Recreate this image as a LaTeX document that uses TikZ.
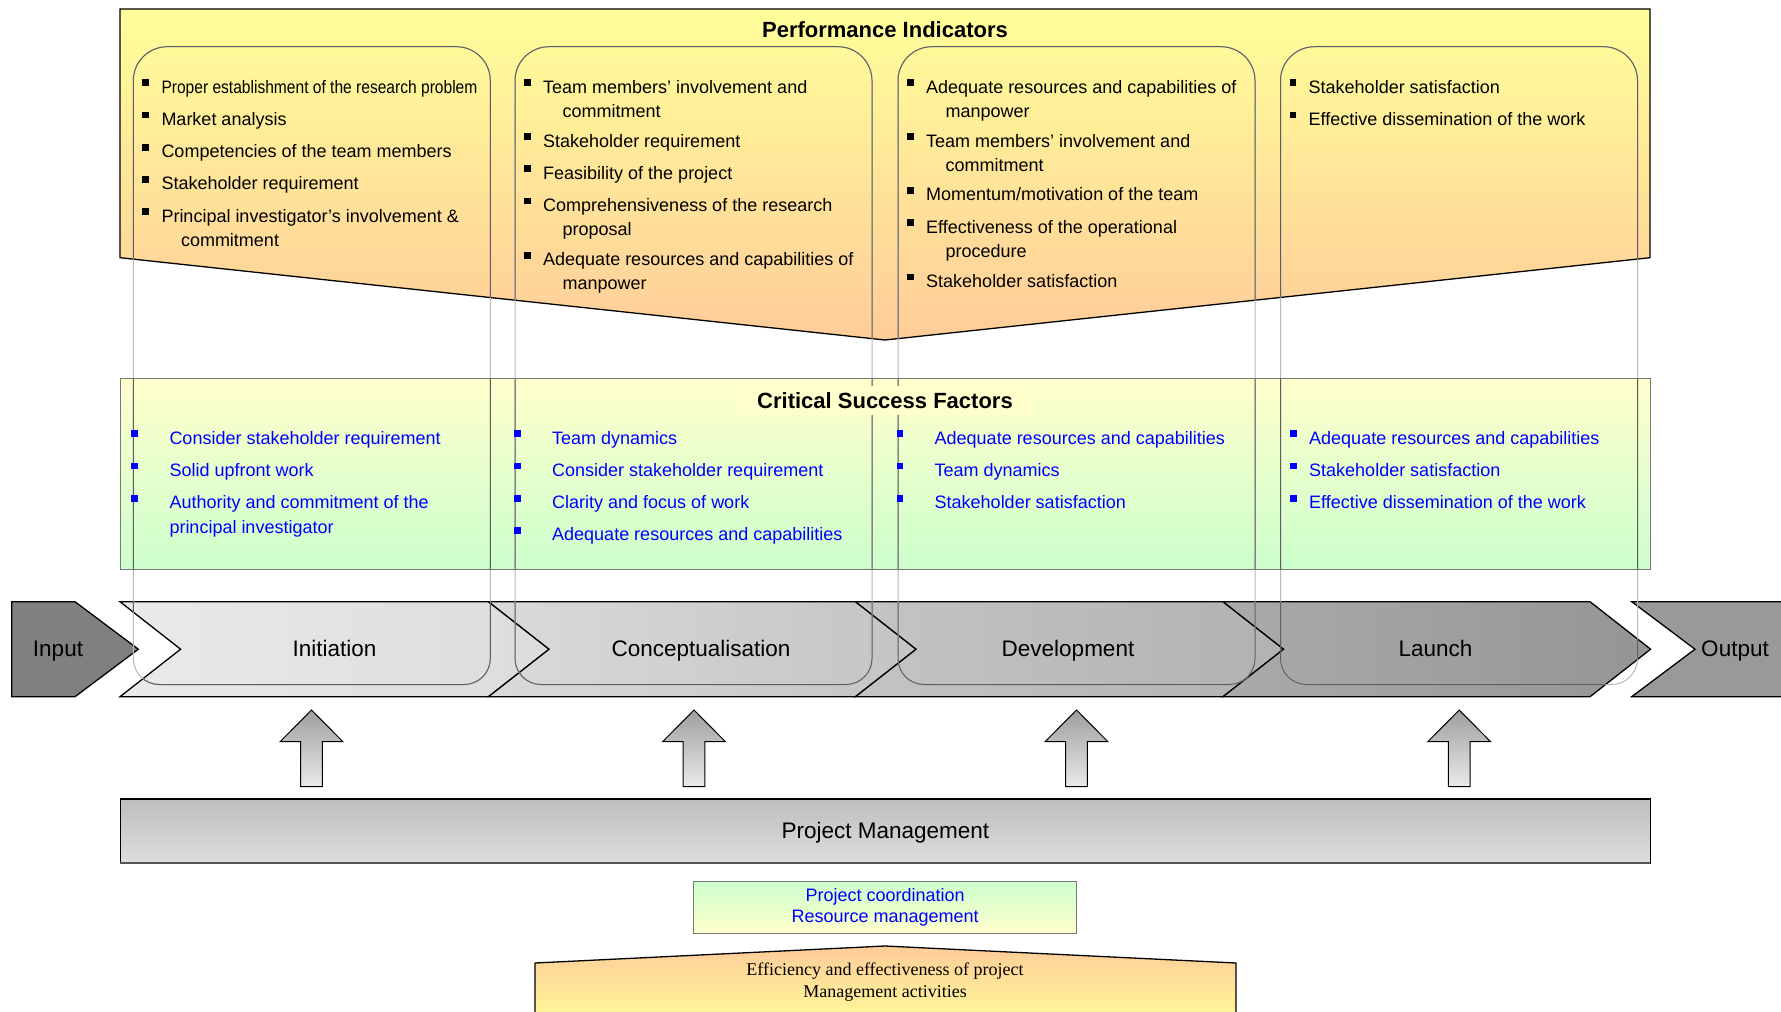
\documentclass[tikz,border=0pt]{standalone}
\usepackage{fontspec}
\setmainfont{Liberation Sans}
\newfontfamily\timesface{Liberation Serif}
\usepackage{graphicx}
\newcounter{lnc}
\definecolor{piTop}{RGB}{255,255,153}
\definecolor{piBot}{RGB}{255,204,153}
\definecolor{csfTop}{RGB}{255,255,204}
\definecolor{csfBot}{RGB}{204,255,204}
\definecolor{csfLine}{RGB}{120,120,120}
\definecolor{inGray}{RGB}{128,128,128}
\definecolor{outGray}{RGB}{153,153,153}
\definecolor{listblue}{RGB}{0,0,255}
\definecolor{colLight}{RGB}{185,185,185}
\definecolor{colDark}{RGB}{95,95,95}
\definecolor{arrTop}{RGB}{158,158,158}
\definecolor{arrBot}{RGB}{234,234,234}
\definecolor{pmTop}{RGB}{190,190,190}
\definecolor{pmBot}{RGB}{222,222,222}
\definecolor{pmEdge}{RGB}{85,85,85}
\definecolor{chA}{RGB}{234,234,234}
\definecolor{chB}{RGB}{220,220,220}
\definecolor{chC}{RGB}{218,218,218}
\definecolor{chD}{RGB}{196,196,196}
\definecolor{chE}{RGB}{196,196,196}
\definecolor{chF}{RGB}{178,178,178}
\definecolor{chG}{RGB}{170,170,170}
\definecolor{chH}{RGB}{149,149,149}
\tikzset{
  listtxt/.style={anchor=base west, inner sep=0pt, font=\fontsize{18}{21.6}\selectfont},
  titletxt/.style={anchor=base, inner sep=0pt, font=\fontsize{22}{26}\selectfont\bfseries},
  proctxt/.style={anchor=base, inner sep=0pt, font=\fontsize{22.5}{27}\selectfont},
  chevstyle/.style={draw=black, line width=1.3pt},
  collight/.style={draw=colLight, line width=1pt},
  coldark/.style={draw=colDark, line width=1pt},
  blockarrow/.style={draw=black, line width=1pt, top color=arrTop, bottom color=arrBot},
}
% text line with automatic node name: [colour]{x expr}{y expr}{text}
\newcommand{\tl}[4][black]{\pgfmathsetmacro\tlx{#2}\pgfmathsetmacro\tly{#3}\stepcounter{lnc}\node[listtxt,text=#1] (ln\thelnc) at (\tlx,\tly) {#4};}
% square bullet: [colour]{x expr}{baseline expr}
\newcommand{\sqb}[3][black]{\pgfmathsetmacro\bx{#2}\pgfmathsetmacro\by{#3}\fill[#1] (\bx,{\by-13.8}) rectangle ({\bx+6.8},{\by-7});}
% performance-indicator item: col-left, baseline, first line
\newcommand{\pia}[3]{\sqb{#1+9}{#2}\tl{#1+28}{#2}{#3}}
% two-line item with hanging continuation
\newcommand{\pib}[4]{\sqb{#1+9}{#2}\tl{#1+28}{#2}{#3}\tl{#1+47.5}{#2+24}{#4}}
% CSF item: bullet x, text x, baseline, text
\newcommand{\csfi}[4]{\sqb[listblue]{#1}{#3}\tl[listblue]{#2}{#3}{#4}}
% column frame path
\newcommand{\colframe}[1]{(#1,360) [rounded corners=34pt] -- (#1,46.7) -- ({#1+357},46.7) -- ({#1+357},360) [rounded corners=26pt] -- ({#1+357},684.5) -- (#1,684.5) -- cycle}
\newcommand{\allcols}{\colframe{133.3} \colframe{515} \colframe{898} \colframe{1280.5}}
% chevron: left, right, left colour, right colour
\newcommand{\chev}[4]{\path[chevstyle,left color=#3,right color=#4] (#1,601.7) -- (#2,601.7) -- ({#2+60.6},649.2) -- (#2,696.7) -- (#1,696.7) -- ({#1+60.6},649.2) -- cycle;}
\newcommand{\uparr}[1]{\path[blockarrow] (#1,710) -- ({#1+31.4},741.7) -- ({#1+10.8},741.7) -- ({#1+10.8},786.7) -- ({#1-10.8},786.7) -- ({#1-10.8},741.7) -- ({#1-31.4},741.7) -- cycle;}
\begin{document}
\begin{tikzpicture}[x=1pt,y=-1pt]
\useasboundingbox (0,0) rectangle (1781,1012);
\clip (0,0) rectangle (1781,1012);
\fill[white] (0,0) rectangle (1781,1012);

% Performance indicators panel
\path[draw=black,line width=1.3pt,top color=piTop,bottom color=piBot]
  (120,9) -- (1650,9) -- (1650,257.7) -- (885,340) -- (120,257.7) -- cycle;

% Critical success factors panel
\path[draw=csfLine,line width=1pt,top color=csfTop,bottom color=csfBot]
  (120.4,378.5) rectangle (1650.3,569.3);

% Process chevrons
\path[chevstyle,fill=inGray] (11.7,601.7) -- (75,601.7) -- (138.3,649.2) -- (75,696.7) -- (11.7,696.7) -- cycle;
\chev{120}{488.5}{chA}{chB}
\chev{488.5}{855.5}{chC}{chD}
\chev{855.5}{1223}{chE}{chF}
\chev{1223}{1590}{chG}{chH}
\path[chevstyle,fill=outGray] (1631.7,601.7) -- (1800,601.7) -- (1800,696.7) -- (1631.7,696.7) -- (1695,649.2) -- cycle;

% Column frames (light over white, darker over filled shapes)
\draw[collight] \allcols;
\begin{scope}
  \clip (120,9) -- (1650,9) -- (1650,257.7) -- (885,340) -- (120,257.7) -- cycle;
  \draw[coldark] \allcols;
\end{scope}
\begin{scope}
  \clip (120.4,378.5) rectangle (1650.3,569.3);
  \draw[coldark] \allcols;
\end{scope}
\begin{scope}
  \clip (120,601.7) -- (1590,601.7) -- (1650.6,649.2) -- (1590,696.7) -- (120,696.7) -- (180.6,649.2) -- cycle;
  \draw[coldark] \allcols;
\end{scope}

% Titles
\node[titletxt] (pititle) at (885,37.5) {Performance Indicators};
\node[anchor=center, inner xsep=20pt, inner ysep=0pt, minimum height=29pt, fill=csfTop,
      font=\fontsize{22}{26}\selectfont\bfseries] (csftitle) at (885,400.6) {Critical Success Factors};

% Performance indicator lists
\pia{133.3}{93}{\scalebox{0.865}[1]{Proper establishment of the research problem}}
\pia{133.3}{125.3}{Market analysis}
\pia{133.3}{157.6}{Competencies of the team members}
\pia{133.3}{189.9}{Stakeholder requirement}
\pib{133.3}{222.2}{Principal investigator’s involvement \&}{commitment}

\pib{515}{93}{Team members’ involvement and}{commitment}
\pia{515}{147}{Stakeholder requirement}
\pia{515}{179}{Feasibility of the project}
\pib{515}{211.3}{Comprehensiveness of the research}{proposal}
\pib{515}{265.6}{Adequate resources and capabilities of}{manpower}

\pib{898}{93}{Adequate resources and capabilities of}{manpower}
\pib{898}{147}{Team members’ involvement and}{commitment}
\pia{898}{200.6}{Momentum/motivation of the team}
\pib{898}{233}{Effectiveness of the operational}{procedure}
\pia{898}{287.3}{Stakeholder satisfaction}

\pia{1280.5}{93}{Stakeholder satisfaction}
\pia{1280.5}{125.3}{Effective dissemination of the work}

% Critical success factor lists
\csfi{131}{169.3}{444}{Consider stakeholder requirement}
\csfi{131}{169.3}{476.3}{Solid upfront work}
\csfi{131}{169.3}{508.6}{Authority and commitment of the}
\tl[listblue]{169.3}{533}{principal investigator}

\csfi{513.8}{552}{444}{Team dynamics}
\csfi{513.8}{552}{476.3}{Consider stakeholder requirement}
\csfi{513.8}{552}{508.6}{Clarity and focus of work}
\csfi{513.8}{552}{540.9}{Adequate resources and capabilities}

\csfi{896.5}{934.5}{444}{Adequate resources and capabilities}
\csfi{896.5}{934.5}{476.3}{Team dynamics}
\csfi{896.5}{934.5}{508.6}{Stakeholder satisfaction}

\csfi{1290}{1309}{444}{Adequate resources and capabilities}
\csfi{1290}{1309}{476.3}{Stakeholder satisfaction}
\csfi{1290}{1309}{508.6}{Effective dissemination of the work}

% Process labels
\node[proctxt] (input) at (58,656) {Input};
\node[proctxt] (initiation) at (334.4,656) {Initiation};
\node[proctxt] (concept) at (701,656) {Conceptualisation};
\node[proctxt] (develop) at (1068,656) {Development};
\node[proctxt] (launch) at (1435.4,656) {Launch};
\node[proctxt] (output) at (1735,656) {Output};

% Block arrows
\uparr{311.5}
\uparr{694}
\uparr{1076.5}
\uparr{1459.2}

% Project management bar
\node[draw=black, line width=1.3pt, top color=pmTop, bottom color=pmBot,
      minimum width=1529.9pt, minimum height=64pt, inner sep=0pt,
      text height=19.3pt, text depth=4.7pt,
      font=\fontsize{22.5}{27}\selectfont] (pm) at (885.35,831) {Project Management};
\draw[pmEdge, line width=2pt] ([xshift=0.6pt,yshift=0.6pt]pm.south west) -- ([xshift=-0.6pt,yshift=0.6pt]pm.south east);

% Project coordination box
\node[draw=csfLine, line width=1pt, top color=csfBot, bottom color=csfTop,
      minimum width=382.5pt, minimum height=52pt, inner sep=0pt, align=center,
      text=listblue, font=\fontsize{18}{21.5}\selectfont] (coord) at (885.2,907.2)
      {Project coordination\\Resource management};

% Bottom pentagon
\path[draw=black,line width=1.3pt,top color=piBot,bottom color=piTop]
  (535,1030) -- (535,963) -- (885,946) -- (1236,963) -- (1236,1030) -- cycle;
\node[anchor=base, inner sep=0pt, font=\timesface\fontsize{18}{22}\selectfont] (eff1) at (885,975) {Efficiency and effectiveness of project};
\node[anchor=base, inner sep=0pt, font=\timesface\fontsize{18}{22}\selectfont] (eff2) at (885,997) {Management activities};
\end{tikzpicture}
\end{document}
